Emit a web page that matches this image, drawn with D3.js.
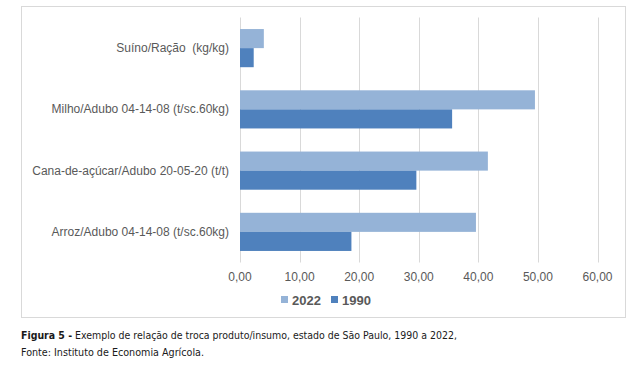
<!DOCTYPE html>
<html><head><meta charset="utf-8">
<script src="https://cdn.jsdelivr.net/npm/d3@7"></script>
<style>body{margin:0;background:#fff}svg{display:block}text{white-space:pre}</style>
</head><body>
<script>
const categories = ["Suíno/Ração  (kg/kg)", "Milho/Adubo 04-14-08 (t/sc.60kg)", "Cana-de-açúcar/Adubo 20-05-20 (t/t)", "Arroz/Adubo 04-14-08 (t/sc.60kg)"];
const seriesNames = ["2022", "1990"];
const values2022 = [4.0, 49.5, 41.6, 39.6];
const values1990 = [2.3, 35.6, 29.6, 18.7];
const xTicks = [0, 10, 20, 30, 40, 50, 60];
const captionBold = "Figura 5 -";
const captionRest = " Exemplo de relação de troca produto/insumo, estado de São Paulo, 1990 a 2022,";
const captionLine2 = "Fonte: Instituto de Economia Agrícola.";

const colors = {"2022": "#95b3d7", "1990": "#4f81bd"};
const W = 642, H = 374;
const svg = d3.select("body").append("svg").attr("width", W).attr("height", H);

// frame
svg.append("rect").attr("x", 21.5).attr("y", 6.5).attr("width", 604).attr("height", 311)
  .attr("fill", "#fff").attr("stroke", "#d9d9d9").attr("stroke-width", 1);

const x = d3.scaleLinear().domain([0, 60]).range([240, 597.5]);
const y = d3.scaleBand().domain(categories).range([17.5, 262.5]).paddingInner(0.377).paddingOuter(0.1885);
const sub = d3.scaleBand().domain(seriesNames).range([0, y.bandwidth()]);

// gridlines
svg.append("g").selectAll("line").data(xTicks).join("line")
  .attr("x1", d => Math.round(x(d)) + 0.5).attr("x2", d => Math.round(x(d)) + 0.5)
  .attr("y1", 17.5).attr("y2", 262.5)
  .attr("stroke", "#d9d9d9").attr("stroke-width", 1);

// tick labels
svg.append("g").selectAll("text").data(xTicks).join("text")
  .attr("x", d => x(d)).attr("y", 281)
  .attr("text-anchor", "middle")
  .attr("font-family", "Liberation Sans, Arial, sans-serif").attr("font-size", 12)
  .attr("fill", "#595959")
  .text(d => d3.format(".2f")(d).replace(".", ","));

// bars
const data = categories.map((c, i) => ({c, vals: [{s: "2022", v: values2022[i]}, {s: "1990", v: values1990[i]}]}));
const g = svg.append("g").selectAll("g").data(data).join("g")
  .attr("transform", d => `translate(0,${y(d.c)})`);
g.selectAll("rect").data(d => d.vals).join("rect")
  .attr("x", x(0)).attr("y", d => sub(d.s))
  .attr("width", d => x(d.v) - x(0)).attr("height", sub.bandwidth())
  .attr("fill", d => colors[d.s]);

// category labels
svg.append("g").selectAll("text").data(categories).join("text")
  .attr("x", 229).attr("y", d => y(d) + y.bandwidth() / 2 + 4)
  .attr("text-anchor", "end")
  .attr("font-family", "Liberation Sans, Arial, sans-serif").attr("font-size", 12)
  .attr("fill", "#595959")
  .text(d => d);

// legend
const legX = [281, 331];
seriesNames.forEach((s, i) => {
  svg.append("rect").attr("x", legX[i]).attr("y", 296).attr("width", 7).attr("height", 7).attr("fill", colors[s]);
  svg.append("text").attr("x", legX[i] + 11).attr("y", 304.5)
    .attr("font-family", "Liberation Sans, Arial, sans-serif").attr("font-size", 13).attr("font-weight", "bold")
    .attr("fill", "#595959").text(s);
});

// caption
const cap = svg.append("text").attr("x", 21).attr("y", 339)
  .attr("font-family", "DejaVu Sans Condensed, DejaVu Sans, sans-serif").attr("font-size", 10.5)
  .attr("fill", "#1a1a1a").attr("textLength", 436).attr("lengthAdjust", "spacingAndGlyphs");
cap.append("tspan").attr("font-weight", "bold").text(captionBold);
cap.append("tspan").text(captionRest);
svg.append("text").attr("x", 21).attr("y", 356)
  .attr("font-family", "DejaVu Sans Condensed, DejaVu Sans, sans-serif").attr("font-size", 10.5)
  .attr("fill", "#1a1a1a").attr("textLength", 183).attr("lengthAdjust", "spacingAndGlyphs")
  .text(captionLine2);
</script>
</body></html>
